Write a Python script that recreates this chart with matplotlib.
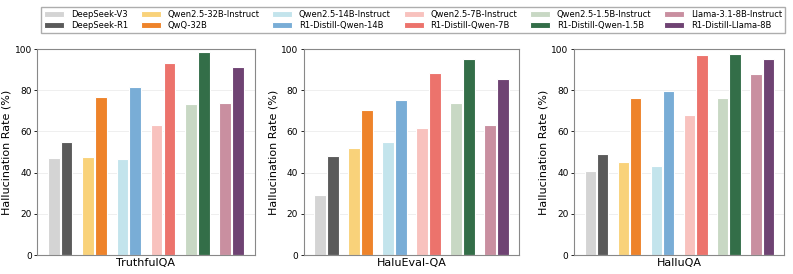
import numpy as np
import matplotlib.pyplot as plt

# models (legend order) and colours
models = ["DeepSeek-V3", "DeepSeek-R1",
          "Qwen2.5-32B-Instruct", "QwQ-32B",
          "Qwen2.5-14B-Instruct", "R1-Distill-Qwen-14B",
          "Qwen2.5-7B-Instruct", "R1-Distill-Qwen-7B",
          "Qwen2.5-1.5B-Instruct", "R1-Distill-Qwen-1.5B",
          "Llama-3.1-8B-Instruct", "R1-Distill-Llama-8B"]
colors = ["#d4d4d4", "#5a5a5a",
          "#f9d27a", "#ee832a",
          "#c3e4ec", "#79add6",
          "#f8c2be", "#ec736c",
          "#c8d8c4", "#336e48",
          "#c98fa0", "#6f4373"]

datasets = ["TruthfulQA", "HaluEval-QA", "HalluQA"]
truthfulqa = [47.1, 54.9, 47.4, 76.7, 46.4, 81.7, 63.3, 93.2, 73.3, 98.5, 73.8, 91.3]
halueval = [29.3, 48.2, 52.1, 70.4, 55.0, 75.2, 61.7, 88.3, 73.9, 95.3, 63.3, 85.4]
halluqa = [40.8, 49.0, 45.1, 76.2, 43.4, 79.8, 68.0, 97.1, 76.2, 97.7, 87.9, 95.1]
values = [truthfulqa, halueval, halluqa]

fig = plt.figure(figsize=(7.93, 2.74), dpi=100)
lefts = [0.047, 0.383, 0.724]
widths = [0.274, 0.272, 0.265]

width = 0.34
offset = 0.187
handles = []
for k, (name, vals) in enumerate(zip(datasets, values)):
    ax = fig.add_axes([lefts[k], 0.069, widths[k], 0.752])
    for i in range(6):
        for j in range(2):
            idx = 2 * i + j
            b = ax.bar(i + (j - 0.5) * 2 * offset, vals[idx], width,
                       color=colors[idx], edgecolor="white", linewidth=0.8,
                       label=models[idx])
            if k == 0:
                handles.append(b)
    ax.set_xlim(-0.67, 5.67)
    ax.set_ylim(0, 100)
    ax.set_yticks(range(0, 101, 20))
    ax.set_xticks([])
    ax.tick_params(axis="y", labelsize=6.5, length=2.5, width=0.6, pad=1.5)
    ax.set_xlabel(name, fontsize=8, labelpad=2)
    ax.set_ylabel("Hallucination Rate (%)", fontsize=8, labelpad=2)
    ax.grid(axis="y", color="#e8e8e8", linewidth=0.6, alpha=0.8)
    ax.set_axisbelow(True)
    for s in ax.spines.values():
        s.set_color("#888888")
        s.set_linewidth(0.8)

fig.legend(handles=handles, labels=models, ncol=6, loc="upper left",
           bbox_to_anchor=(37 / 793, 0.99, 752 / 793, 0.0), mode="expand",
           fontsize=6.0, frameon=True,
           fancybox=False, edgecolor="#999999", handlelength=2.4,
           handleheight=0.8, columnspacing=1.4, borderpad=0.35,
           labelspacing=0.25)

fig.savefig("out.png", dpi=100)
